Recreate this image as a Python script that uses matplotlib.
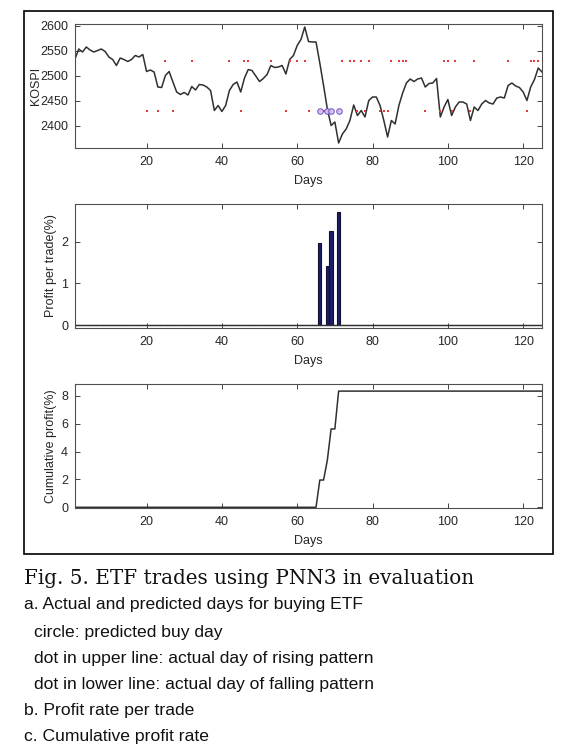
import numpy as np
import matplotlib
matplotlib.use('Agg')
import matplotlib.pyplot as plt
from matplotlib.patches import Rectangle

# KOSPI closing values for evaluation days 1..125
kospi = [2533, 2553, 2547, 2557, 2551, 2547, 2550, 2553, 2548, 2537,
         2532, 2520, 2535, 2532, 2528, 2532, 2540, 2537, 2542, 2508,
         2511, 2507, 2477, 2476, 2500, 2508, 2487, 2467, 2462, 2466,
         2461, 2478, 2471, 2482, 2481, 2477, 2470, 2430, 2440, 2428,
         2440, 2470, 2482, 2487, 2467, 2495, 2512, 2510, 2499, 2488,
         2494, 2502, 2520, 2516, 2517, 2520, 2503, 2532, 2540, 2560,
         2572, 2597, 2568, 2567, 2567, 2525, 2480, 2433, 2400, 2407,
         2365, 2383, 2393, 2410, 2441, 2420, 2430, 2417, 2450, 2457,
         2457, 2440, 2410, 2377, 2410, 2403, 2440, 2465, 2485, 2493,
         2488, 2493, 2495, 2477, 2484, 2485, 2494, 2417, 2437, 2452,
         2420, 2437, 2447, 2447, 2443, 2410, 2437, 2430, 2443, 2450,
         2445, 2443, 2455, 2457, 2455, 2480, 2485, 2479, 2476, 2467,
         2450, 2477, 2492, 2515, 2507]
days = np.arange(1, len(kospi) + 1)

# actual pattern days (dots) and predicted buy days (circles)
rise_days = [1, 25, 32, 42, 46, 47, 53, 58, 60, 62, 72, 74, 75, 77, 79,
             85, 87, 88, 89, 99, 100, 102, 107, 116, 122, 123, 124]
fall_days = [20, 23, 27, 45, 57, 63, 66, 67, 68, 69, 71, 76, 78, 82, 83,
             84, 94, 98, 101, 106, 121]
buy_days = [66, 68, 69, 71]
rise_level = 2530
fall_level = 2430

# profit per trade (%)
trade_days = [66, 68, 69, 71]
trade_profit = [1.96, 1.42, 2.25, 2.72]

profit = np.zeros(len(days))
for d, p in zip(trade_days, trade_profit):
    profit[d - 1] = p
cum_profit = np.cumsum(profit)

W, H = 572, 744
fig = plt.figure(figsize=(W / 100, H / 100), dpi=100)
plt.rcParams['font.family'] = ['Liberation Sans', 'DejaVu Sans']

def ax_box(left, top, right, bottom):
    return fig.add_axes([left / W, 1 - bottom / H, (right - left) / W, (bottom - top) / H])

L, R = 75, 542

def style(ax, label, label_x):
    ax.set_xlim(1, 125)
    ax.set_xticks([20, 40, 60, 80, 100, 120])
    ax.tick_params(direction='in', top=True, right=True, length=3.5, width=0.6,
                   labelsize=9, colors='#262626')
    ax.tick_params(axis='x', pad=6)
    ax.tick_params(axis='y', pad=5)
    for s in ax.spines.values():
        s.set_color('#505050')
        s.set_linewidth(0.8)
    ax.set_xlabel('Days', fontsize=9, color='#262626', labelpad=5)
    ax.set_ylabel(label, fontsize=9, color='#262626')
    ax.yaxis.set_label_coords((label_x - L) / (R - L), 0.5)

# a. KOSPI with pattern days
ax1 = ax_box(L, 24, R, 148)
ax1.plot(days, kospi, color='#303030', lw=1.1)
ax1.plot(rise_days, [rise_level] * len(rise_days), 's', color='#e03a3a', ms=1.6, mew=0)
ax1.plot(fall_days, [fall_level] * len(fall_days), 's', color='#e03a3a', ms=1.6, mew=0)
ax1.plot(buy_days, [fall_level] * len(buy_days), 'o', ms=4.0, mfc='#d6c8f2',
         mec='#7050c8', mew=0.8, alpha=0.9)
ax1.set_ylim(2355, 2603)
ax1.set_yticks([2400, 2450, 2500, 2550, 2600])
style(ax1, 'KOSPI', 42)

# b. profit per trade
ax2 = ax_box(L, 204, R, 328)
ax2.bar(days, profit, width=0.9, color='#1c1c6a', edgecolor='#101030', linewidth=0.8)
ax2.axhline(0, color='#303030', lw=1.0)
ax2.set_ylim(-0.07, 2.9)
ax2.set_yticks([0, 1, 2])
style(ax2, 'Profit per trade(%)', 57)

# c. cumulative profit
ax3 = ax_box(L, 384, R, 508)
ax3.plot(days, cum_profit, color='#303030', lw=1.1)
ax3.set_ylim(-0.05, 8.86)
ax3.set_yticks([0, 2, 4, 6, 8])
style(ax3, 'Cumulative profit(%)', 57)

# outer frame
fig.add_artist(Rectangle((24 / W, 1 - 554 / H), 529 / W, 543 / H, transform=fig.transFigure,
                         fill=False, edgecolor='black', lw=1.2))

# caption
fig.text(24 / W, 1 - 578 / H, 'Fig. 5. ETF trades using PNN3 in evaluation',
         family='DejaVu Serif', fontsize=14.3, va='center', ha='left', color='#111111')
lines = [(24, 604, 'a. Actual and predicted days for buying ETF'),
         (34, 632, 'circle: predicted buy day'),
         (34, 659, 'dot in upper line: actual day of rising pattern'),
         (34, 685, 'dot in lower line: actual day of falling pattern'),
         (24, 711, 'b. Profit rate per trade'),
         (24, 737, 'c. Cumulative profit rate')]
for x, y, t in lines:
    fig.text(x / W, 1 - y / H, t, fontsize=12.6, va='center', ha='left', color='#111111')

fig.savefig('out.png', dpi=100)
